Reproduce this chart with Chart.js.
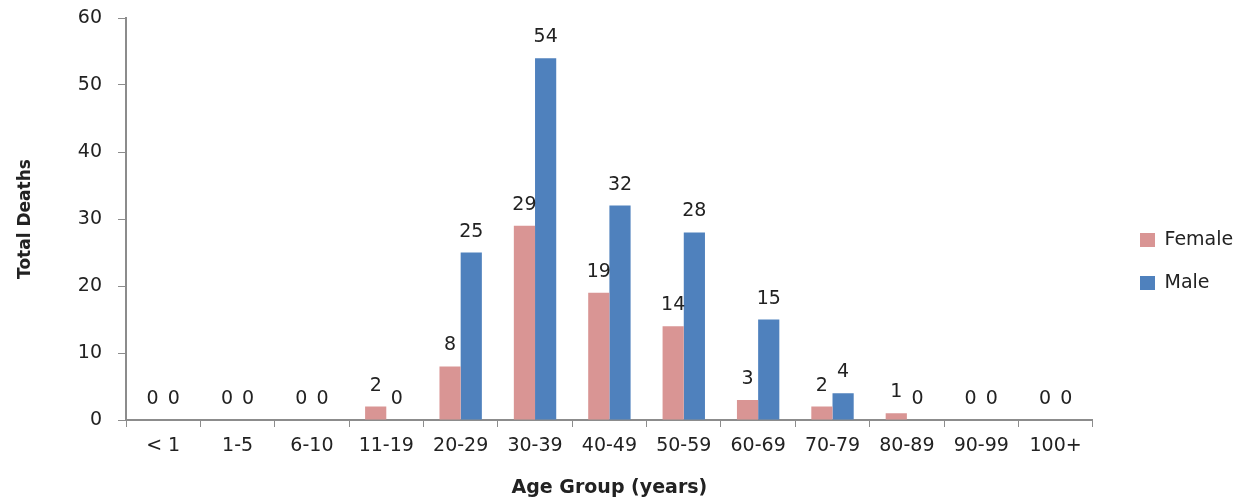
<!DOCTYPE html>
<html>
<head>
<meta charset="utf-8">
<script src="https://cdn.jsdelivr.net/npm/chart.js@4/dist/chart.umd.min.js"></script>
<style>
  body { margin: 0; background: #fff; }
  #wrap { width: 1243px; height: 499px; position: relative; }
</style>
</head>
<body>
<div id="wrap"><canvas id="deathsChart"></canvas></div>
<script>
const ageGroups = ['< 1', '1-5', '6-10', '11-19', '20-29', '30-39', '40-49', '50-59', '60-69', '70-79', '80-89', '90-99', '100+'];
const femaleDeaths = [0, 0, 0, 2, 8, 29, 19, 14, 3, 2, 1, 0, 0];
const maleDeaths = [0, 0, 0, 0, 25, 54, 32, 28, 15, 4, 0, 0, 0];
const yTicks = [0, 10, 20, 30, 40, 50, 60];

const fontFamily = '"DejaVu Sans", sans-serif';
const axisGray = '#8c8c8c';
const textColor = '#222';

// value labels above each bar
const barLabels = {
    id: 'barLabels',
    afterDatasetsDraw(chart) {
        const ctx = chart.ctx;
        ctx.save();
        ctx.font = '19px ' + fontFamily;
        ctx.fillStyle = textColor;
        ctx.textAlign = 'center';
        ctx.textBaseline = 'alphabetic';
        chart.data.datasets.forEach((ds, i) => {
            chart.getDatasetMeta(i).data.forEach((bar, j) => {
                ctx.fillText(String(ds.data[j]), bar.x, bar.y - 16);
            });
        });
        ctx.restore();
    }
};

// push the legend a bit further right, away from the plot
const legendShift = {
    id: 'legendShift',
    afterLayout(chart) {
        const lg = chart.legend;
        const dx = 1116 - lg.left;
        lg.left += dx;
        lg.right += dx;
        lg.top += 3;
        lg.bottom += 3;
    }
};

new Chart(document.getElementById('deathsChart'), {
    type: 'bar',
    data: {
        labels: ageGroups,
        datasets: [
            { label: 'Female', data: femaleDeaths, backgroundColor: '#d99594', barPercentage: 1, categoryPercentage: 0.57 },
            { label: 'Male', data: maleDeaths, backgroundColor: '#4f81bd', barPercentage: 1, categoryPercentage: 0.57 }
        ]
    },
    options: {
        responsive: true,
        maintainAspectRatio: false,
        animation: false,
        layout: { padding: { top: 18, right: 23, left: 0, bottom: 0 } },
        scales: {
            x: {
                grid: { display: true, drawOnChartArea: false, drawTicks: true, tickLength: 7, color: axisGray, offset: true },
                border: { color: axisGray, width: 2 },
                ticks: { color: textColor, font: { family: fontFamily, size: 19 }, padding: 8, maxRotation: 0, autoSkip: false },
                title: { display: true, text: 'Age Group (years)', color: textColor, font: { family: fontFamily, size: 19, weight: 'bold' }, padding: { top: 11, bottom: 0 } },
                afterFit(scale) { scale.height = 79; }
            },
            y: {
                min: 0,
                max: 60,
                afterBuildTicks(scale) { scale.ticks = yTicks.map(v => ({ value: v })); },
                grid: { display: true, drawOnChartArea: false, drawTicks: true, tickLength: 8, color: axisGray },
                border: { color: axisGray, width: 2 },
                ticks: { color: textColor, font: { family: fontFamily, size: 19 }, padding: 16 },
                title: { display: true, text: 'Total Deaths', color: textColor, font: { family: fontFamily, size: 17, weight: 'bold' }, padding: { top: 15, bottom: 0 } },
                afterFit(scale) {
                    scale.width = 126;
                    scale.paddingTop = 0;
                    scale.paddingBottom = 0;
                }
            }
        },
        plugins: {
            legend: {
                position: 'right',
                labels: {
                    boxWidth: 15,
                    boxHeight: 14,
                    padding: 24,
                    color: textColor,
                    font: { family: fontFamily, size: 19 }
                }
            },
            tooltip: { enabled: false }
        }
    },
    plugins: [barLabels, legendShift]
});
</script>
</body>
</html>
